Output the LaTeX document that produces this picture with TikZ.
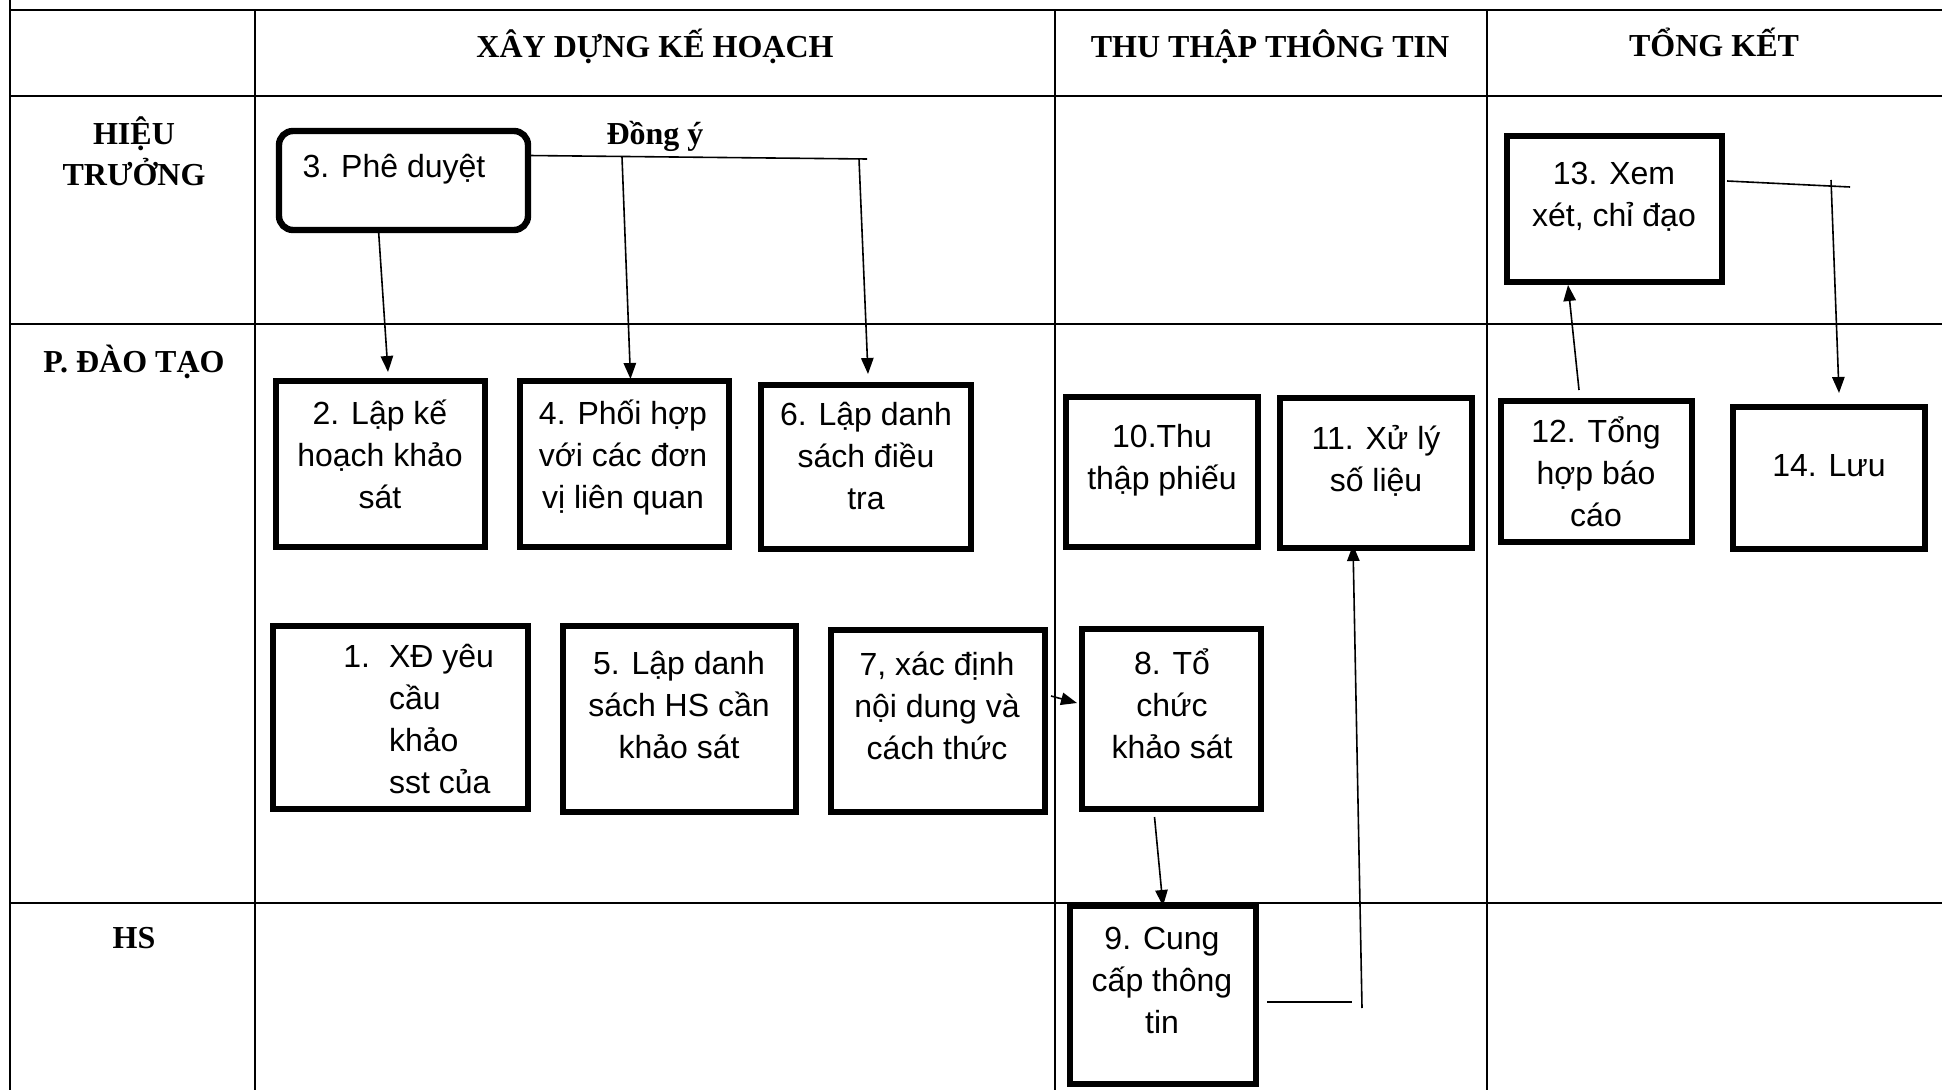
\documentclass[tikz,border=0pt]{standalone}
\usepackage{fontspec}
\setmainfont{Liberation Serif}
\newfontfamily\arial{Liberation Sans}
\usetikzlibrary{arrows.meta,calc}
\begin{document}
\begin{tikzpicture}[x=0.5pt,y=-0.5pt,
  grid/.style={line width=1.1pt},
  frame/.style={draw, line width=2.6pt, inner sep=0pt, outer sep=0pt},
  txt/.style={font=\arial\fontsize{16}{21}\selectfont, align=center, inner sep=0pt},
  hdr/.style={font=\bfseries\fontsize{16}{20.5}\selectfont, align=center, inner sep=0pt},
  conn/.style={line width=0.8pt},
  arr/.style={conn, -{Triangle[length=8pt,width=6.2pt]}},
]
\useasboundingbox (0,0) rectangle (1942,1090);
% table grid
\draw[grid] (10,0) -- (10,1090);
\draw[grid] (10,10) -- (1942,10);
\draw[grid] (10,96) -- (1942,96);
\draw[grid] (10,324) -- (1942,324);
\draw[grid] (10,903) -- (1942,903);
\draw[grid] (255,10) -- (255,1090);
\draw[grid] (1055,10) -- (1055,1090);
\draw[grid] (1487,10) -- (1487,1090);
% headers
\node[hdr] (h1) at (655,46) {XÂY DỰNG KẾ HOẠCH};
\node[hdr] (h2) at (1270,47) {THU THẬP THÔNG TIN};
\node[hdr] (h3) at (1714,42) {TỔNG KẾT};
\node[hdr] (r1) at (134,151) {HIỆU\\TRƯỞNG};
\node[hdr] (r2) at (134,362) {P. ĐÀO TẠO};
\node[hdr] (r3) at (134,938) {HS};
\node[hdr] (ok) at (655,136) {Đồng ý};
% boxes
\node[frame, rounded corners=7pt, line width=3.2pt, minimum width=124.5pt, minimum height=49.5pt] (b3) at (403.5,180.5) {};
\node[frame, minimum width=104.5pt, minimum height=83pt] (b2) at (380.5,464) {};
\node[frame, minimum width=104.5pt, minimum height=83pt] (b4) at (624.5,464) {};
\node[frame, minimum width=105pt, minimum height=82pt] (b6) at (866,467) {};
\node[frame, minimum width=127.5pt, minimum height=91.5pt] (b1) at (400.5,717.5) {};
\node[frame, minimum width=116.5pt, minimum height=93pt] (b5) at (679.5,719) {};
\node[frame, minimum width=107pt, minimum height=91pt] (b7) at (938,721) {};
\node[frame, minimum width=89.5pt, minimum height=90pt] (b8) at (1171.5,719) {};
\node[frame, minimum width=96pt, minimum height=75pt] (b10) at (1162,472) {};
\node[frame, minimum width=96pt, minimum height=75pt] (b11) at (1376,473) {};
\node[frame, minimum width=95.5pt, minimum height=70.5pt] (b12) at (1596.5,471.5) {};
\node[frame, minimum width=96pt, minimum height=71pt] (b14) at (1829,478) {};
\node[frame, minimum width=107.5pt, minimum height=73pt] (b13) at (1614.5,209) {};
\node[frame, minimum width=93pt, minimum height=89pt] (b9) at (1163,995) {};
% texts
\node[txt] (t3) at (394,169) {3. Phê duyệt};
\node[txt] (t2) at (380,454) {2. Lập kế\\hoạch khảo\\sát};
\node[txt] (t4) at (623,458) {4. Phối hợp\\với các đơn\\vị liên quan};
\node[txt] (t6) at (866,456) {6. Lập danh\\sách điều\\tra};
\node[txt, anchor=west] (t1) at (343,722) {\begin{tabular}{@{}l@{\hspace{9.5pt}}l@{}}1. & XĐ yêu\\ & cầu\\ & khảo\\ & sst của\end{tabular}};
\node[txt] (t5) at (679,705) {5. Lập danh\\sách HS cần\\khảo sát};
\node[txt] (t7) at (937,706) {7, xác định\\nội dung và\\cách thức};
\node[txt] (t8) at (1172,704) {8. Tổ\\chức\\khảo sát};
\node[txt] (t10) at (1162,460) {10.Thu\\thập phiếu};
\node[txt] (t11) at (1376,461) {11. Xử lý\\số liệu};
\node[txt] (t12) at (1596,472) {12. Tổng\\hợp báo\\cáo};
\node[txt] (t14) at (1829,466) {14. Lưu};
\node[txt] (t13) at (1614,197) {13. Xem\\xét, chỉ đạo};
\node[txt] (t9) at (1162,980) {9. Cung\\cấp thông\\tin};
% junction points
\coordinate (j1) at (867,159);
\coordinate (j2) at (622,157);
\coordinate (j3) at (859,159);
\coordinate (k1) at (1352,1002);
\coordinate (k2) at (1362,1008);
\coordinate (m1) at (1850,187);
\coordinate (m2) at (1831,180);
% connectors
\draw[conn] ($(b3.east)+(0,-25)$) -- (j1);
\draw[arr] ($(b3.south)+(-25,0)$) -- ($(b2.north)+(7.5,-9)$);
\draw[arr] (j2) -- ($(b4.north)+(6,-2)$);
\draw[arr] (j3) -- ($(b6.north)+(2,-11)$);
\draw[arr] ($(b7.east)+(6,-25)$) -- ($(b8.west)+(-5,-16)$);
\draw[arr] ($(b8.south)+(-17,8)$) -- (b9.north);
\draw[conn] ($(b9.east)+(11,7)$) -- (k1);
\draw[arr] (k2) -- ($(b11.south)+(-23,-3)$);
\draw[arr] ($(b12.north)+(-17.5,-11)$) -- ($(b13.south)+(-46.5,3)$);
\draw[conn] ($(b13.east)+(5,-28)$) -- (m1);
\draw[arr] (m2) -- ($(b14.north)+(10,-14)$);
\end{tikzpicture}
\end{document}
